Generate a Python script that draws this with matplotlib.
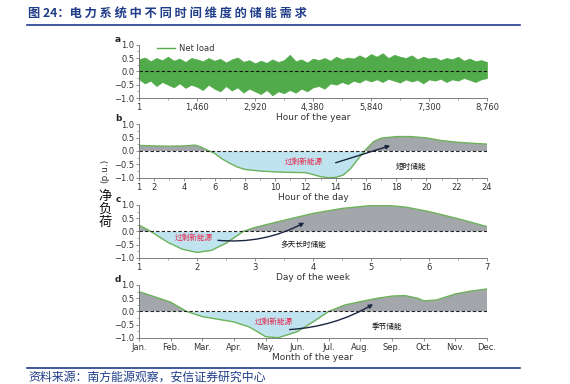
import matplotlib
matplotlib.use("Agg")
import matplotlib.pyplot as plt
from matplotlib.ticker import MultipleLocator, FixedLocator
from matplotlib.lines import Line2D

plt.rcParams['font.family'] = ['DejaVu Sans']
CJK = ['Noto Sans CJK SC', 'DejaVu Sans']

# ---------------- data ----------------
title_prefix = "图 24："
title_body = "电力系统中不同时间维度的储能需求"
source = "资料来源：南方能源观察，安信证券研究中心"

# panel a: envelope of the hourly net load
hours_a = list(range(1, 8761, 146)) + [8760]
upper_a = [0.45, 0.52, 0.38, 0.5, 0.42, 0.55, 0.4, 0.48, 0.35, 0.5, 0.45,
           0.38, 0.5, 0.4, 0.47, 0.33, 0.45, 0.52, 0.36, 0.42, 0.3,
           0.4, 0.32, 0.45, 0.35, 0.42, 0.62, 0.38, 0.45, 0.33, 0.48,
           0.42, 0.5, 0.4, 0.55, 0.45, 0.52, 0.48, 0.6, 0.5, 0.65,
           0.55, 0.68, 0.5, 0.62, 0.55, 0.5, 0.6, 0.45, 0.55, 0.48,
           0.52, 0.42, 0.5, 0.45, 0.55, 0.4, 0.48, 0.38, 0.42,
           0.35]
lower_a = [-0.3, -0.45, -0.35, -0.55, -0.4, -0.5, -0.6, -0.45, -0.62, -0.5, -0.58,
           -0.7, -0.5, -0.65, -0.75, -0.55, -0.72, -0.6, -0.8, -0.65, -0.75,
           -0.85, -0.7, -0.9, -0.75, -0.82, -0.7, -0.8, -0.65, -0.75, -0.6,
           -0.55, -0.65, -0.45, -0.5, -0.4, -0.48, -0.35, -0.42, -0.3, -0.38,
           -0.3, -0.4, -0.28, -0.35, -0.42, -0.3, -0.38, -0.32, -0.45, -0.3,
           -0.35, -0.28, -0.4, -0.3, -0.35, -0.25, -0.32, -0.4, -0.3,
           -0.25]
ticks_a = [1, 1460, 2920, 4380, 5840, 7300, 8760]
ticklabels_a = ["1", "1,460", "2,920", "4,380", "5,840", "7,300", "8,760"]

# panel b: hour of the day
hours_b = [1, 2, 3, 4, 4.7, 5, 5.5, 6, 6.5, 7,
           7.5, 8, 9, 10, 11, 12, 12.5, 13, 13.5, 14,
           14.5, 15, 15.5, 16, 16.5, 17, 18, 19, 20, 21,
           22, 23, 24]
vals_b = [0.21, 0.19, 0.18, 0.19, 0.22, 0.17, 0.04, -0.09, -0.3, -0.46,
          -0.6, -0.69, -0.75, -0.78, -0.8, -0.81, -0.88, -0.96, -1.0, -0.99,
          -0.9, -0.65, -0.28, 0.06, 0.35, 0.48, 0.54, 0.54, 0.49, 0.39,
          0.33, 0.29, 0.26]
ticks_b = [1, 2, 4, 6, 8, 10, 12, 14, 16, 18, 20, 22, 24]

# panel c: day of the week
days_c = [1, 1.2, 1.5, 1.75, 2, 2.25, 2.5, 2.8, 3, 3.5, 4, 4.5, 5, 5.3, 5.6, 6, 6.5, 7]
vals_c = [0.24, 0.0, -0.42, -0.68, -0.8, -0.72, -0.45, 0.0, 0.15, 0.42, 0.68, 0.87,
          0.98, 0.98, 0.92, 0.75, 0.48, 0.18]
ticks_c = [1, 2, 3, 4, 5, 6, 7]

# panel d: month of the year
months_d = [1, 2, 2.5, 3, 3.5, 4, 4.5, 5, 5.4, 6, 6.5, 7, 7.5, 8, 8.5, 9, 9.4, 9.8,
            10, 10.4, 11, 11.5, 12]
vals_d = [0.75, 0.35, 0.0, -0.2, -0.3, -0.4, -0.6, -0.96, -1.0, -0.77, -0.4, 0.0,
          0.24, 0.37, 0.49, 0.58, 0.6, 0.5, 0.4, 0.43, 0.66, 0.77, 0.85]
month_labels = ["Jan.", "Feb.", "Mar.", "Apr.", "May.", "Jun.", "Jul.", "Aug.",
                "Sep.", "Oct.", "Nov.", "Dec."]

# ---------------- style ----------------
GREEN = '#6db35a'
NOISE = '#52ab4a'
GREY = '#a3a6aa'
BLUE = '#bfe4f0'
RED = '#e8204a'
NAVY = '#1c2541'
TITLE_BLUE = '#1f3c88'
SPINE = '#666666'
TXT = '#333333'

fig = plt.figure(figsize=(5.7, 3.84), dpi=100)

L, W = 139 / 570, (487 - 139) / 570
def pos(top_px, bot_px):
    return [L, (384 - bot_px) / 384, W, (bot_px - top_px) / 384]

axa = fig.add_axes(pos(44.7, 98))
axb = fig.add_axes(pos(124.3, 177.7))
axc = fig.add_axes(pos(205, 257.7))
axd = fig.add_axes(pos(285, 337.7))

def style(ax, label, xlabel):
    for s in ['top', 'right']:
        ax.spines[s].set_visible(False)
    for s in ['left', 'bottom']:
        ax.spines[s].set_color(SPINE)
        ax.spines[s].set_linewidth(0.6)
    ax.set_ylim(-1.0, 1.0)
    ax.set_yticks([-1.0, -0.5, 0.0, 0.5, 1.0])
    ax.set_yticklabels(["\u22121.0", "\u22120.5", "0.0", "0.5", "1.0"])
    ax.yaxis.set_minor_locator(MultipleLocator(0.25))
    ax.tick_params(axis='both', which='major', labelsize=6, length=2.5, width=0.5,
                   colors=SPINE, labelcolor=TXT, pad=1)
    ax.tick_params(axis='both', which='minor', length=1.5, width=0.4, colors=SPINE)
    ax.set_xlabel(xlabel, fontsize=6.5, color=TXT, labelpad=1)
    ax.text(-0.06, 1.1, label, transform=ax.transAxes, fontsize=6.5,
            fontweight='bold', color='#222222', ha='center', va='center')
    ax.patch.set_alpha(0)

# panel a
axa.fill_between(hours_a, lower_a, upper_a, color=NOISE, lw=0.5, edgecolor=NOISE)
axa.axhline(0, color='#111111', lw=0.8, ls=(0, (3, 2)))
axa.set_xlim(1, 8760)
axa.set_xticks(ticks_a)
axa.set_xticklabels(ticklabels_a)
axa.xaxis.set_minor_locator(FixedLocator([730, 2190, 3650, 5110, 6570, 8030]))
style(axa, 'a', 'Hour of the year')
axa.legend([Line2D([], [], color=NOISE, lw=1)], ['Net load'], loc='upper left',
           bbox_to_anchor=(0.03, 1.15), frameon=False, fontsize=6, handlelength=2.2,
           handletextpad=0.4, labelcolor=TXT)

def curve_panel(ax, x, y):
    ax.fill_between(x, y, 0, where=[v >= 0 for v in y], interpolate=True,
                    color=GREY, lw=0)
    ax.fill_between(x, y, 0, where=[v <= 0 for v in y], interpolate=True,
                    color=BLUE, lw=0)
    ax.plot(x, y, color=GREEN, lw=1.0)
    ax.axhline(0, color='#222222', lw=0.8, ls=(0, (3, 2)))

# panel b
curve_panel(axb, hours_b, vals_b)
axb.set_xlim(1, 24)
axb.set_xticks(ticks_b)
axb.xaxis.set_minor_locator(MultipleLocator(1))
style(axb, 'b', 'Hour of the day')
axb.text(11.9, -0.42, "过剩新能源", color=RED, fontsize=5.5, family=CJK,
         ha='center', va='center')
axb.annotate("", xy=(17.6, 0.2), xytext=(14.0, -0.44),
             arrowprops=dict(arrowstyle='-|>', color=NAVY, lw=1.0,
                             mutation_scale=6, shrinkA=0, shrinkB=0))
axb.text(19.0, -0.61, "短时储能", color='#111111', fontsize=5.5, family=CJK,
         ha='center', va='center')

# panel c
curve_panel(axc, days_c, vals_c)
axc.set_xlim(1, 7)
axc.set_xticks(ticks_c)
axc.xaxis.set_minor_locator(MultipleLocator(0.5))
style(axc, 'c', 'Day of the week')
axc.text(1.95, -0.25, "过剩新能源", color=RED, fontsize=5.5, family=CJK,
         ha='center', va='center')
axc.annotate("", xy=(3.85, 0.33), xytext=(2.36, -0.34),
             arrowprops=dict(arrowstyle='-|>', color=NAVY, lw=1.0,
                             mutation_scale=6, shrinkA=0, shrinkB=0,
                             connectionstyle='arc3,rad=0.15'))
axc.text(3.84, -0.5, "多天长时储能", color='#111111', fontsize=5.5, family=CJK,
         ha='center', va='center')

# panel d
curve_panel(axd, months_d, vals_d)
axd.set_xlim(1, 12)
axd.set_xticks(list(range(1, 13)))
axd.set_xticklabels(month_labels)
style(axd, 'd', 'Month of the year')
axd.text(5.25, -0.41, "过剩新能源", color=RED, fontsize=5.5, family=CJK,
         ha='center', va='center')
axd.annotate("", xy=(8.4, 0.27), xytext=(5.76, -0.69),
             arrowprops=dict(arrowstyle='-|>', color=NAVY, lw=1.0,
                             mutation_scale=6, shrinkA=0, shrinkB=0,
                             connectionstyle='arc3,rad=0.12'))
axd.text(8.85, -0.59, "季节储能", color='#111111', fontsize=5.5, family=CJK,
         ha='center', va='center')

# y-axis shared label
fig.text(105 / 570, 1 - 171 / 384, "(p.u.)", rotation=90, fontsize=6.5,
         color=TXT, ha='center', va='center')
for i, ch in enumerate("净负荷"):
    fig.text(105 / 570, 1 - (196 + 13 * i) / 384, ch, fontsize=9.5, family=CJK,
             color='#111111', ha='center', va='center')

# title and source
fig.text(28 / 570, 1 - 13 / 384, title_prefix + " ".join(title_body), fontsize=8.8,
         fontweight='bold', family=CJK, color=TITLE_BLUE, ha='left', va='center')
fig.add_artist(Line2D([27 / 570, 520 / 570], [1 - 24.5 / 384, 1 - 24.5 / 384],
                      color=TITLE_BLUE, lw=1.2))
fig.add_artist(Line2D([27 / 570, 520 / 570], [1 - 368 / 384, 1 - 368 / 384],
                      color=TITLE_BLUE, lw=1.2))
fig.text(28 / 570, 1 - 377.5 / 384, source, fontsize=8.6, style='italic',
         family=CJK, color=TITLE_BLUE, ha='left', va='center')

fig.savefig("out.png", dpi=100)
